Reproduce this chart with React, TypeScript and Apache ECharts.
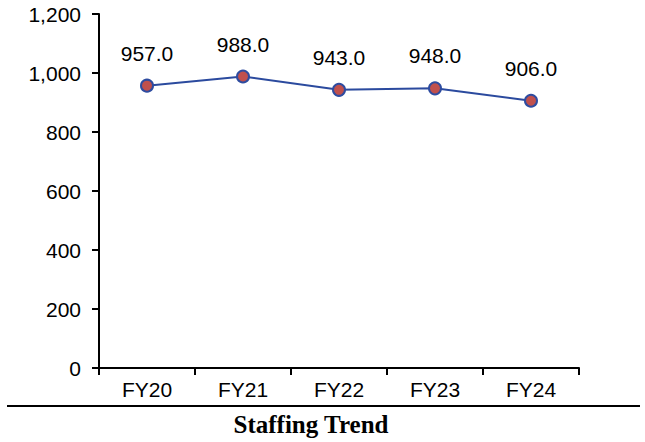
import React, { useEffect, useRef } from "react";
import * as echarts from "echarts";

// Headcount by fiscal year
const categories = ["FY20", "FY21", "FY22", "FY23", "FY24"];
const staffing = [957, 988, 943, 948, 906];
const yTicks = { min: 0, max: 1200, interval: 200 };
const chartTitle = "Staffing Trend";

export default function App() {
  const ref = useRef<HTMLDivElement>(null);

  useEffect(() => {
    if (!ref.current) return;
    const chart = echarts.init(ref.current, undefined, { renderer: "svg" });
    const sans = "'Liberation Sans', Arial, sans-serif";
    chart.setOption({
      animation: false,
      backgroundColor: "#ffffff",
      grid: { left: 99, top: 14, right: 66, bottom: 74, containLabel: false },
      xAxis: {
        type: "category",
        data: categories,
        boundaryGap: true,
        axisLine: { lineStyle: { color: "#000", width: 2 } },
        axisTick: { show: true, length: 7, alignWithLabel: false, lineStyle: { color: "#000", width: 2 } },
        axisLabel: { color: "#000", fontFamily: sans, fontSize: 21, margin: 11 },
        splitLine: { show: false },
      },
      yAxis: {
        type: "value",
        min: yTicks.min,
        max: yTicks.max,
        interval: yTicks.interval,
        axisLine: { show: true, lineStyle: { color: "#000", width: 2 } },
        axisTick: { show: true, length: 7, lineStyle: { color: "#000", width: 2 } },
        axisLabel: {
          color: "#000",
          fontFamily: sans,
          fontSize: 21,
          margin: 18,
          formatter: (v: number) => v.toLocaleString("en-US"),
        },
        splitLine: { show: false },
      },
      series: [
        {
          type: "line",
          data: staffing,
          symbol: "circle",
          symbolSize: 12,
          lineStyle: { color: "#2B4A9E", width: 2 },
          itemStyle: { color: "#C0504D", borderColor: "#2E4CA0", borderWidth: 2 },
          label: {
            show: true,
            position: "top",
            distance: 15,
            color: "#000",
            fontFamily: sans,
            fontSize: 21,
            formatter: (p: any) => Number(p.value).toFixed(1),
          },
        },
      ],
      graphic: [
        {
          type: "line",
          shape: { x1: 7, y1: 406, x2: 640, y2: 406 },
          style: { stroke: "#000", lineWidth: 2 },
        },
        {
          type: "text",
          x: 311,
          y: 424,
          style: {
            text: chartTitle,
            fill: "#000",
            font: "bold 25px 'Liberation Serif', 'Times New Roman', serif",
            textAlign: "center",
            textVerticalAlign: "middle",
          },
        },
      ],
    });
    return () => chart.dispose();
  }, []);

  return (
    <div
      ref={ref}
      style={{ position: "absolute", left: 0, top: 0, width: 645, height: 442 }}
    />
  );
}
